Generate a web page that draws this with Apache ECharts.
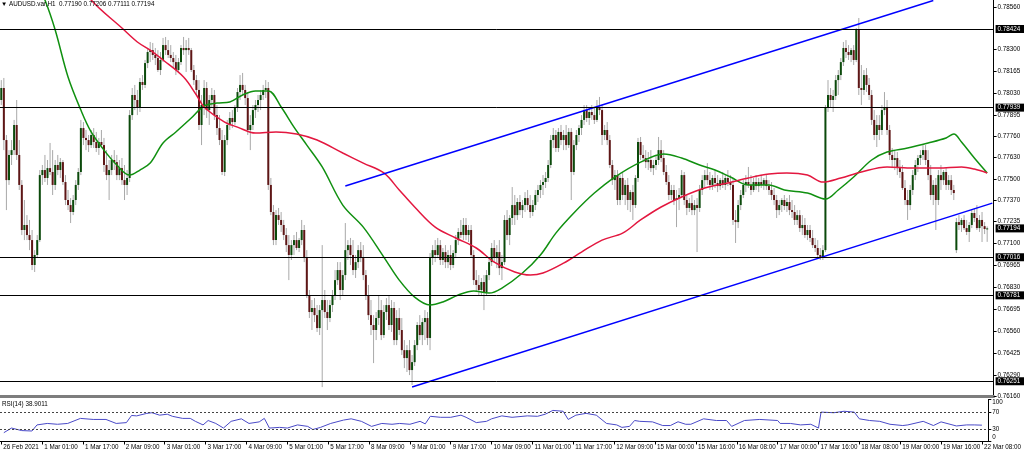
<!DOCTYPE html>
<html><head><meta charset="utf-8">
<script src="https://cdn.jsdelivr.net/npm/echarts@6/dist/echarts.min.js"></script>
<style>html,body{margin:0;padding:0;background:#fff;}#c{width:1024px;height:453px;}</style>
</head><body><div id="c"></div>
<script>
// Prices are stored in points (1 point = 0.00001)
const POINT = 0.00001;
const symbolName = 'AUDUSD.var,H1';
const xTickLabels = ['26 Feb 2021','1 Mar 01:00','1 Mar 17:00','2 Mar 09:00','3 Mar 01:00','3 Mar 17:00','4 Mar 09:00','5 Mar 01:00','5 Mar 17:00','8 Mar 09:00','9 Mar 01:00','9 Mar 17:00','10 Mar 09:00','11 Mar 01:00','11 Mar 17:00','12 Mar 09:00','15 Mar 00:00','15 Mar 16:00','16 Mar 08:00','17 Mar 00:00','17 Mar 16:00','18 Mar 08:00','19 Mar 00:00','19 Mar 16:00','22 Mar 08:00'];
const barsPerLabel = 16;
const categoryCount = 387;

const opens = [
77986,78060,77739,77492,77647,77677,77832,77647,77462,77184,
77215,77153,77122,76968,77030,77122,77523,77554,77505,77566,
77542,77462,77585,77554,77603,77480,77369,77338,77295,77369,
77462,77542,77813,77752,77739,77708,77770,77727,77690,77727,
77708,77585,77523,77554,77616,77603,77523,77566,77492,77462,
77505,77893,78017,77986,77937,78097,78079,78214,78282,78294,
78264,78245,78171,78233,78325,78294,78264,78245,78220,78171,
78220,78307,78294,78307,78294,78171,78109,78048,77832,77955,
78060,77924,77986,78017,77893,77813,77739,77542,77739,77832,
77875,77850,77937,78035,78079,78048,77998,77801,77832,77924,
77955,77986,78017,78048,78060,77462,77295,77122,77276,77246,
77215,77153,77091,77030,77091,77122,77073,77122,77184,77011,
76783,76678,76703,76659,76579,76690,76752,76678,76641,76721,
76783,76875,76937,76814,76906,77060,77091,77030,76937,76986,
77060,77011,76906,76783,76659,76598,76567,76641,76690,76536,
76678,76721,76598,76703,76505,76641,76567,76443,76394,76443,
76320,76369,76474,76598,76536,76616,76641,76518,77011,77060,
77030,77091,76999,77048,76986,77030,76968,77042,77122,77172,
77153,77215,77153,77184,77030,76875,76845,76814,76863,76801,
76906,76986,77073,77011,77048,76949,76986,77246,77153,77258,
77338,77276,77357,77307,77338,77381,77338,77295,77338,77400,
77431,77462,77480,77505,77585,77739,77770,77690,77789,77739,
77770,77708,77789,77542,77708,77770,77813,77863,77924,77875,
77912,77893,77863,77937,77924,77770,77801,77739,77585,77492,
77523,77369,77505,77400,77462,77369,77418,77338,77505,77727,
77647,77628,77603,77616,77566,77585,77616,77677,77628,77542,
77480,77400,77431,77369,77381,77400,77523,77369,77320,77350,
77307,77338,77320,77431,77492,77523,77492,77462,77505,77474,
77455,77492,77462,77505,77480,77462,77246,77233,77338,77400,
77462,77480,77462,77431,77480,77455,77480,77462,77492,77455,
77431,77400,77369,77307,77338,77369,77332,77357,77307,77295,
77246,77276,77196,77215,77153,77184,77135,77091,77073,77030,
77017,77060,77937,78017,77986,78011,78109,78140,78220,78307,
78282,78264,78294,78233,78418,78060,78048,78140,78079,78017,
77863,77770,77832,77801,77924,77937,77801,77647,77616,77628,
77566,77542,77443,77369,77338,77431,77523,77585,77628,77647,
77677,77616,77523,77400,77462,77369,77523,77492,77542,77462,
77492,77431,77060,77233,77215,77246,77196,77172,77215,77289,
77258,77196,77246,77208,77190];
const highs = [
78109,78122,77770,77677,77739,77863,77986,77739,77492,77369,
77276,77246,77184,77060,77153,77554,77585,77647,77616,77721,
77677,77616,77647,77628,77616,77523,77431,77381,77400,77492,
77566,77863,77850,77801,77770,77801,77813,77789,77752,77801,
77752,77677,77616,77647,77677,77647,77616,77628,77585,77554,
77924,78060,78079,78048,78122,78140,78233,78307,78344,78338,
78307,78294,78282,78369,78375,78356,78325,78282,78264,78245,
78325,78375,78356,78369,78307,78202,78140,78109,78017,78109,
78097,78017,78060,78048,77955,77893,77801,77770,77863,77912,
77924,77955,78060,78140,78153,78079,78035,77893,77955,77986,
78017,78048,78079,78109,78097,77505,77338,77307,77320,77295,
77246,77196,77153,77122,77153,77172,77135,77246,77215,77060,
76814,76752,76764,76721,76721,77091,76814,76752,76752,76814,
76937,76986,76986,76937,77227,77122,77135,77122,77030,77091,
77110,77091,76937,76845,76752,76659,76678,76783,76752,76721,
76764,76783,76752,76740,76690,76703,76641,76505,76474,76505,
76413,76505,76616,76659,76641,76690,76678,77042,77091,77122,
77135,77122,77073,77091,77060,77091,77060,77153,77196,77246,
77258,77258,77215,77215,77060,76937,76906,76888,76906,76937,
77011,77104,77122,77091,77122,77030,77276,77307,77276,77449,
77400,77381,77400,77369,77418,77431,77400,77369,77431,77462,
77492,77523,77542,77616,77770,77813,77801,77813,77832,77801,
77832,77813,77813,77739,77801,77832,77893,77955,77955,77937,
77955,77937,77986,78005,77955,77832,77850,77770,77616,77554,
77554,77523,77542,77492,77505,77431,77462,77523,77752,77758,
77708,77677,77665,77677,77616,77647,77758,77739,77677,77585,
77523,77462,77462,77431,77443,77554,77542,77400,77381,77400,
77369,77381,77462,77523,77554,77597,77542,77523,77554,77523,
77505,77542,77523,77554,77523,77505,77307,77369,77431,77492,
77523,77573,77523,77505,77523,77505,77523,77505,77523,77492,
77480,77443,77400,77369,77381,77400,77381,77400,77369,77338,
77307,77307,77276,77258,77215,77215,77184,77135,77122,77073,
77091,77955,78109,78060,78048,78140,78171,78245,78344,78356,
78325,78307,78325,78430,78492,78202,78171,78183,78122,78048,
77924,77893,77893,77955,78035,77986,77832,77690,77677,77665,
77616,77585,77492,77431,77462,77554,77616,77647,77677,77708,
77708,77677,77585,77492,77505,77554,77585,77554,77566,77523,
77523,77462,77258,77276,77258,77276,77246,77233,77307,77320,
77338,77276,77295,77233,77206];
const lows = [
77955,77677,77307,77462,77585,77647,77616,77431,77153,77122,
77122,77060,76937,76925,77011,77110,77462,77480,77462,77523,
77400,77431,77523,77505,77462,77338,77307,77227,77276,77338,
77431,77523,77708,77677,77665,77690,77690,77665,77647,77690,
77542,77492,77369,77523,77554,77492,77492,77462,77369,77400,
77480,77863,77924,77893,77912,78048,78060,78183,78220,78233,
78202,78159,78140,78220,78264,78245,78220,78183,78140,78159,
78202,78264,78159,78264,78159,78079,78017,77801,77708,77893,
77875,77832,77937,77863,77770,77708,77523,77517,77708,77801,
77813,77832,77912,77986,78017,77955,77770,77677,77801,77875,
77912,77924,77986,77998,77431,77276,77091,77091,77215,77172,
77122,77048,76875,76999,77030,77060,77048,77091,76986,76764,
76641,76567,76616,76555,76536,76215,76641,76567,76616,76678,
76752,76845,76752,76783,76875,76999,76968,76906,76888,76949,
76986,76875,76752,76629,76536,76363,76505,76598,76505,76518,
76629,76567,76555,76474,76474,76536,76413,76332,76308,76289,
76228,76345,76443,76505,76474,76505,76474,76443,76968,76986,
77011,76968,76968,76949,76949,76937,76949,77011,77091,77135,
77122,77122,77110,77011,76845,76801,76783,76783,76690,76777,
76875,76962,76986,76949,76906,76875,76968,77122,77091,77215,
77215,77246,77276,77258,77295,77307,77258,77270,77307,77357,
77381,77400,77443,77480,77566,77690,77665,77665,77708,77677,
77677,77690,77369,77523,77677,77727,77770,77832,77850,77832,
77863,77838,77850,77893,77708,77739,77708,77566,77462,77431,
77338,77338,77369,77338,77307,77295,77246,77320,77480,77616,
77603,77566,77554,77542,77523,77554,77585,77603,77523,77462,
77369,77369,77338,77202,77307,77381,77338,77276,77295,77276,
77276,77048,77295,77400,77443,77462,77431,77431,77443,77418,
77431,77443,77431,77455,77431,77215,77104,77196,77307,77381,
77418,77443,77400,77418,77431,77418,77443,77431,77431,77400,
77369,77338,77258,77276,77295,77307,77295,77276,77258,77215,
77215,77172,77153,77135,77122,77110,77073,77048,77011,76999,
76999,77048,77912,77937,77912,77986,78017,78109,78196,78245,
78233,78220,78202,78220,78017,77955,78017,78035,77986,77832,
77739,77696,77739,77770,77893,77770,77616,77566,77554,77523,
77505,77431,77338,77246,77307,77400,77492,77542,77585,77616,
77585,77492,77369,77338,77184,77338,77431,77462,77431,77431,
77400,77369,77042,77184,77172,77184,77153,77110,77196,77233,
77184,77172,77110,77159,77111];
const closes = [
78060,77739,77492,77647,77677,77832,77647,77462,77184,77215,
77153,77122,76968,77030,77122,77523,77554,77505,77566,77542,
77462,77585,77554,77603,77480,77369,77338,77295,77369,77462,
77542,77813,77752,77739,77708,77770,77727,77690,77727,77708,
77585,77523,77554,77616,77603,77523,77566,77492,77462,77505,
77893,78017,77986,77937,78097,78079,78214,78282,78294,78264,
78245,78171,78233,78325,78294,78264,78245,78220,78171,78220,
78307,78294,78307,78294,78171,78109,78048,77832,77955,78060,
77924,77986,78017,77893,77813,77739,77542,77739,77832,77875,
77850,77937,78035,78079,78048,77998,77801,77832,77924,77955,
77986,78017,78048,78060,77462,77295,77122,77276,77246,77215,
77153,77091,77030,77091,77122,77073,77122,77184,77011,76783,
76678,76703,76659,76579,76690,76752,76678,76641,76721,76783,
76875,76937,76814,76906,77060,77091,77030,76937,76986,77060,
77011,76906,76783,76659,76598,76567,76641,76690,76536,76678,
76721,76598,76703,76505,76641,76567,76443,76394,76443,76320,
76369,76474,76598,76536,76616,76641,76518,77011,77060,77030,
77091,76999,77048,76986,77030,76968,77042,77122,77172,77153,
77215,77153,77184,77030,76875,76845,76814,76863,76801,76906,
76986,77073,77011,77048,76949,76986,77246,77153,77258,77338,
77276,77357,77307,77338,77381,77338,77295,77338,77400,77431,
77462,77480,77505,77585,77739,77770,77690,77789,77739,77770,
77708,77789,77542,77708,77770,77813,77863,77924,77875,77912,
77893,77863,77937,77924,77770,77801,77739,77585,77492,77523,
77369,77505,77400,77462,77369,77418,77338,77505,77727,77647,
77628,77603,77616,77566,77585,77616,77677,77628,77542,77480,
77400,77431,77369,77381,77400,77523,77369,77320,77350,77307,
77338,77320,77431,77492,77523,77492,77462,77505,77474,77455,
77492,77462,77505,77480,77462,77246,77233,77338,77400,77462,
77480,77462,77431,77480,77455,77480,77462,77492,77455,77431,
77400,77369,77307,77338,77369,77332,77357,77307,77295,77246,
77276,77196,77215,77153,77184,77135,77091,77073,77030,77017,
77060,77937,78017,77986,78011,78109,78140,78220,78307,78282,
78264,78294,78233,78418,78060,78048,78140,78079,78017,77863,
77770,77832,77801,77924,77937,77801,77647,77616,77628,77566,
77542,77443,77369,77338,77431,77523,77585,77628,77647,77677,
77616,77523,77400,77462,77369,77523,77492,77542,77462,77492,
77431,77412,77233,77215,77246,77196,77172,77215,77289,77258,
77196,77246,77208,77190,77194];

// moving averages (bar index, points)
const greenMaIdx = [14,17,21,26,31,35,40,45,50,54,58,63,68,74,79,84,89,94,99,104,109,114,119,125,133,141,149,155,161,167,172,178,184,190,195,203,210,216,223,231,239,249,258,265,272,278,284,291,299,305,314,321,326,332,339,345,353,361,368,371,374,379,384];
const greenMaVal = [78696,78603,78418,78128,77924,77789,77677,77585,77523,77554,77597,77721,77789,77875,77949,77967,77974,78017,78042,78042,77943,77819,77708,77573,77338,77202,77017,76875,76770,76721,76740,76783,76808,76795,76826,76919,77030,77165,77289,77412,77511,77603,77653,77628,77585,77554,77511,77462,77462,77431,77412,77375,77431,77511,77616,77665,77690,77721,77752,77776,77727,77628,77536];
const redMaIdx = [32,35,47,53,58,63,71,76,79,87,92,99,107,115,123,133,141,149,155,161,169,177,185,192,200,206,211,219,226,234,242,249,257,265,274,283,291,299,306,314,320,327,335,345,355,365,374,379,384];
const redMaVal = [78696,78603,78430,78344,78294,78233,78128,78017,77943,77850,77819,77782,77789,77776,77739,77659,77597,77536,77431,77326,77202,77135,77073,76986,76925,76906,76919,76980,77048,77122,77165,77246,77326,77388,77443,77474,77505,77529,77536,77523,77480,77505,77542,77573,77566,77566,77573,77560,77536];

// RSI(14) (bar index, value)
const rsiIdx = [1,4,8,12,14,18,22,26,31,36,41,45,49,51,53,57,59,62,65,67,71,74,76,79,81,84,87,90,94,97,101,103,105,109,112,116,120,122,125,129,134,137,141,145,149,153,156,160,164,166,168,172,176,180,182,186,190,192,196,200,206,210,213,216,220,222,225,229,233,237,241,243,246,248,250,255,259,262,265,268,270,275,280,284,286,291,297,304,305,309,313,317,320,321,326,330,334,336,340,344,348,353,355,361,365,368,374,378,381,384];
const rsiVal = [21,32,26,25,39.5,43,41,43,55,52.5,52.5,43,45,62,61,67,68.5,62.7,65,60,55,55,48,39.5,50,43,32,48,54,43,46.7,55,32,33.6,32,39.5,36,28.5,33.6,43,51,54,48,36,43,41,43,41,48,42,60,57.6,57.6,62.7,57.6,45,48,54,61,57.6,61,60,65,74,72,52.5,62.7,67,62.7,43,39.5,33.6,36,50,48,46.7,38,38,47,41,41,54,50,50,36,50,52.5,50,43,43,39.5,41,32,70,68.5,72,70,54,50,48,41,38,39.5,48,38,46.7,37,39.5,39.5,38.9011];

const priceTicks = [0.7856,0.783,0.78165,0.7803,0.77895,0.7776,0.7763,0.775,0.7737,0.77235,0.771,0.76965,0.7683,0.76695,0.7656,0.76425,0.7629,0.7616];
const levels = [0.78424,0.77939,0.77016,0.76781,0.76251];
const rsiTicks = [100,70,30,0];
const rsiLevels = [70,30];
// trend channel anchors: [bar index, price]
const channelUpper = [[134,0.77455],[363,0.78600]];
const channelLower = [[160,0.76215],[386,0.77350]];

const FONT = 'Liberation Sans, Arial, sans-serif';
const FS = 6.3;
const last = closes.length - 1;
const lastPrice = closes[last] * POINT;
const header = '\u25BC ' + symbolName + '  ' + [opens[last], highs[last], lows[last], closes[last]].map(v => (v * POINT).toFixed(5)).join(' ');
const rsiHeader = 'RSI(14) ' + rsiVal[rsiVal.length - 1].toFixed(4);

const cats = Array.from({length: categoryCount}, (_, i) => String(i));
const candleData = opens.map((o, i) => [i, o * POINT, highs[i] * POINT, lows[i] * POINT, closes[i] * POINT]);
const pairs = (idx, val, k) => idx.map((x, j) => [x, val[j] * k]);

function renderCandle(params, api) {
  const i = api.value(0);
  const o = api.value(1), h = api.value(2), l = api.value(3), c = api.value(4);
  const po = api.coord([i, o]), pc = api.coord([i, c]), ph = api.coord([i, h]), pl = api.coord([i, l]);
  const x = po[0];
  const bw = 2;
  const top = Math.min(po[1], pc[1]), bot = Math.max(po[1], pc[1]);
  const bull = c >= o;
  return {
    type: 'group',
    children: [
      {type: 'line', shape: {x1: x, y1: ph[1], x2: x, y2: pl[1]}, style: {stroke: '#a9a9a9', lineWidth: 1}},
      {type: 'rect', shape: {x: x - bw / 2, y: top, width: bw, height: Math.max(1, bot - top)}, style: {fill: bull ? '#0b4a0b' : '#5e1616'}}
    ]
  };
}

const chart = echarts.init(document.getElementById('c'), null, {renderer: 'canvas'});
const txt = {fontSize: FS, color: '#000', fontFamily: FONT};
const markLabel = {show: true, position: 'end', distance: 2, formatter: (p) => Number(p.value).toFixed(5), color: '#fff', backgroundColor: '#000', padding: [1, 4, 1, 2], fontSize: FS, fontFamily: FONT};
chart.setOption({
  animation: false,
  backgroundColor: '#ffffff',
  title: [
    {text: header, left: 1, top: 1, padding: 0, textStyle: Object.assign({fontWeight: 'normal'}, txt)},
    {text: rsiHeader, left: 2, top: 401, padding: 0, textStyle: Object.assign({fontWeight: 'normal'}, txt)}
  ],
  grid: [
    {left: -4.55, right: 30.4, top: 0, height: 396},
    {left: -4.55, right: 30.4, top: 399.5, height: 42}
  ],
  xAxis: [
    {gridIndex: 0, type: 'category', data: cats, boundaryGap: true,
      axisLine: {show: true, onZero: false, lineStyle: {color: '#7d7d7d', width: 3}},
      axisTick: {show: false}, axisLabel: {show: false}, splitLine: {show: false}},
    {gridIndex: 1, type: 'category', data: cats, boundaryGap: true,
      axisLine: {show: true, onZero: false, lineStyle: {color: '#000', width: 1}},
      axisTick: {show: true, alignWithLabel: true, length: 3, interval: (i) => i % barsPerLabel === 0, lineStyle: {color: '#000'}},
      axisLabel: Object.assign({interval: (i) => i % barsPerLabel === 0, formatter: (v, i) => xTickLabels[i / barsPerLabel] || '', align: 'left', margin: 3, padding: [0, 0, 0, 2]}, txt),
      splitLine: {show: false}}
  ],
  yAxis: [
    {gridIndex: 0, type: 'value', position: 'right', min: 0.7616, max: 0.78603, scale: true,
      axisLine: {show: true, lineStyle: {color: '#000', width: 1}},
      axisTick: {show: true, customValues: priceTicks, length: 3, lineStyle: {color: '#000'}},
      axisLabel: Object.assign({customValues: priceTicks, formatter: (v) => v.toFixed(5), margin: 4}, txt),
      splitLine: {show: false}},
    {gridIndex: 1, type: 'value', position: 'right', min: 0, max: 100,
      axisLine: {show: true, lineStyle: {color: '#000', width: 1}},
      axisTick: {show: true, customValues: rsiTicks, length: 3, lineStyle: {color: '#000'}},
      axisLabel: Object.assign({customValues: rsiTicks, margin: 4,
        formatter: (v) => v === 100 ? '{hi|100}' : (v === 0 ? '{lo|0}' : String(v)),
        rich: {hi: Object.assign({padding: [6, 0, 0, 0]}, txt), lo: Object.assign({padding: [0, 0, 9, 0]}, txt)}}, txt),
      splitLine: {show: false}}
  ],
  series: [
    {type: 'custom', name: 'candles', xAxisIndex: 0, yAxisIndex: 0, renderItem: renderCandle, data: candleData,
      encode: {x: 0, y: [1, 2, 3, 4]}, clip: true, z: 2},
    {type: 'line', name: 'MA fast', xAxisIndex: 0, yAxisIndex: 0, data: pairs(greenMaIdx, greenMaVal, POINT),
      smooth: 0.35, showSymbol: false, symbol: 'none', clip: true, lineStyle: {color: '#109010', width: 1.5}, z: 3},
    {type: 'line', name: 'MA slow', xAxisIndex: 0, yAxisIndex: 0, data: pairs(redMaIdx, redMaVal, POINT),
      smooth: 0.35, showSymbol: false, symbol: 'none', clip: true, lineStyle: {color: '#e3173f', width: 1.5}, z: 3,
      markLine: {silent: true, symbol: ['none', 'none'], animation: false, precision: 5,
        lineStyle: {color: '#000', width: 1, type: 'solid'},
        label: markLabel,
        data: levels.map(v => ({yAxis: v})).concat([{yAxis: lastPrice, lineStyle: {color: 'rgba(0,0,0,0)', width: 0}, label: markLabel}])}},
    {type: 'line', name: 'channel upper', xAxisIndex: 0, yAxisIndex: 0, data: channelUpper, symbol: 'none', clip: true,
      lineStyle: {color: '#0000ff', width: 1.5}, z: 4},
    {type: 'line', name: 'channel lower', xAxisIndex: 0, yAxisIndex: 0, data: channelLower, symbol: 'none', clip: true,
      lineStyle: {color: '#0000ff', width: 1.5}, z: 4},
    {type: 'line', name: 'RSI', xAxisIndex: 1, yAxisIndex: 1, data: pairs(rsiIdx, rsiVal, 1), symbol: 'none', clip: true,
      lineStyle: {color: '#4a4ac8', width: 1},
      markLine: {silent: true, symbol: ['none', 'none'], animation: false, precision: 2, label: {show: false},
        lineStyle: {color: '#444', width: 1, type: [2, 2]},
        data: rsiLevels.map(v => ({yAxis: v}))}}
  ]
});
</script>
</body></html>
